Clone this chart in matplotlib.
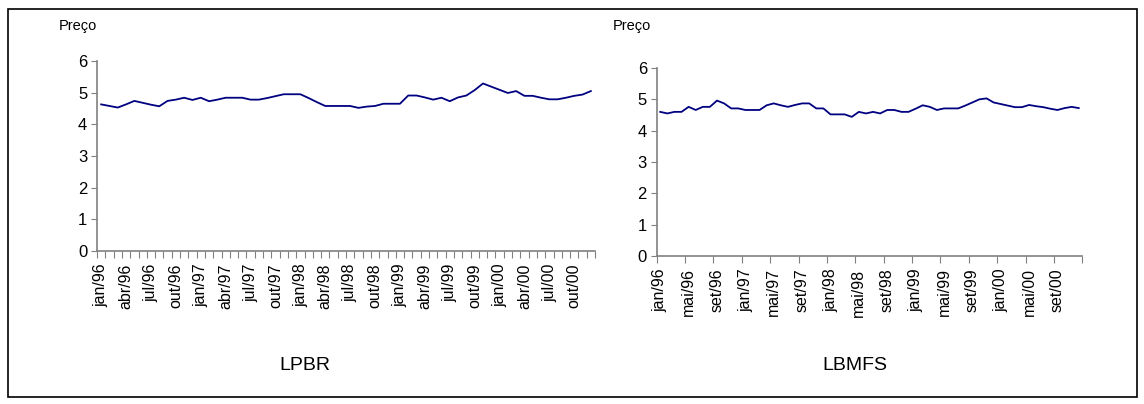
import matplotlib
matplotlib.use("Agg")
import matplotlib.pyplot as plt
from matplotlib.patches import Rectangle

plt.rcParams['font.family'] = ['Liberation Sans', 'DejaVu Sans']

meses = ["jan", "fev", "mar", "abr", "mai", "jun", "jul", "ago", "set", "out", "nov", "dez"]
anos = ["96", "97", "98", "99", "00"]
rotulos = [m + "/" + a for a in anos for m in meses]

lpbr = [4.63, 4.58, 4.53, 4.63, 4.74, 4.68, 4.62, 4.57, 4.74, 4.78,
        4.84, 4.77, 4.84, 4.73, 4.78, 4.84, 4.84, 4.84, 4.78, 4.78,
        4.83, 4.89, 4.95, 4.95, 4.95, 4.83, 4.70, 4.58, 4.58, 4.58,
        4.58, 4.52, 4.56, 4.58, 4.65, 4.65, 4.65, 4.91, 4.91, 4.85,
        4.78, 4.84, 4.73, 4.85, 4.91, 5.08, 5.29, 5.19, 5.09, 4.99,
        5.05, 4.90, 4.90, 4.84, 4.79, 4.79, 4.84, 4.90, 4.94, 5.05]

lbmfs = [4.60, 4.55, 4.60, 4.60, 4.76, 4.66, 4.76, 4.76, 4.96, 4.87,
         4.71, 4.71, 4.66, 4.66, 4.66, 4.81, 4.87, 4.81, 4.76, 4.82,
         4.87, 4.87, 4.71, 4.71, 4.52, 4.52, 4.52, 4.44, 4.60, 4.55,
         4.60, 4.55, 4.66, 4.66, 4.60, 4.60, 4.70, 4.81, 4.76, 4.66,
         4.71, 4.71, 4.71, 4.80, 4.90, 5.00, 5.03, 4.90, 4.85, 4.80,
         4.75, 4.75, 4.82, 4.78, 4.75, 4.70, 4.66, 4.72, 4.76, 4.72]

W, H = 1144, 404
fig = plt.figure(figsize=(W / 100, H / 100), dpi=100)
fig.patch.set_facecolor("white")
fig.patches.append(Rectangle((8 / W, 1 - 397 / H), 1129 / W, 388 / H,
                             transform=fig.transFigure, fill=False,
                             edgecolor="black", lw=1.2))

def painel(box, dados, passo_tick, passo_rot, titulo, x_titulo, x_preco):
    ax = fig.add_axes(box)
    n = len(dados)
    ax.plot(range(n), dados, color="#000080", lw=1.3)
    ax.set_xlim(-0.5, n - 0.5)
    ax.set_ylim(0, 6)
    ax.set_yticks(range(7))
    for s in ["top", "right"]:
        ax.spines[s].set_visible(False)
    for s in ["left", "bottom"]:
        ax.spines[s].set_color("#808080")
        ax.spines[s].set_linewidth(1.2)
    ax.set_xticks([k - 0.5 for k in range(0, n + 1, passo_tick)])
    ax.set_xticklabels([])
    ax.set_xticks(list(range(0, n, passo_rot)), minor=True)
    ax.set_xticklabels(rotulos[0:n:passo_rot], minor=True, rotation=90,
                       fontsize=11.5)
    ax.tick_params(axis="x", which="major", length=5, color="#808080",
                   direction="out")
    ax.tick_params(axis="x", which="minor", length=0, pad=9)
    ax.tick_params(axis="y", length=4, color="#808080", labelsize=12, pad=3)
    fig.text(x_preco / W, 1 - 26 / H, "Preço", fontsize=10.5,
             ha="center", va="center")
    fig.text(x_titulo / W, 1 - 365 / H, titulo, fontsize=14,
             ha="center", va="center")
    return ax

painel([97 / W, 153 / H, 498 / W, 190 / H], lpbr, 1, 3, "LPBR", 305, 78)
painel([656.7 / W, 148 / H, 425.6 / W, 188 / H], lbmfs, 4, 4, "LBMFS", 855, 632)

fig.savefig("out.png", dpi=100, facecolor="white")
